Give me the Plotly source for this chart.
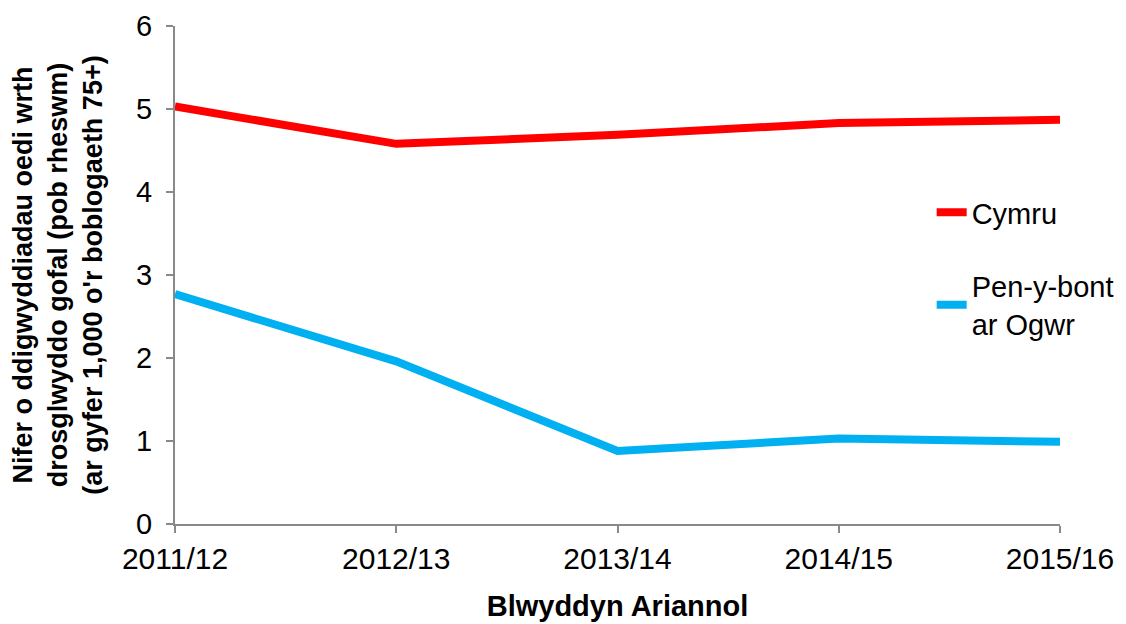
import plotly.graph_objects as go

years = ['2011/12', '2012/13', '2013/14', '2014/15', '2015/16']
cymru = [5.03, 4.58, 4.69, 4.83, 4.87]
penybont = [2.77, 1.96, 0.88, 1.03, 0.99]

font_name = 'Liberation Sans, Arial, sans-serif'

fig = go.Figure()
fig.add_trace(go.Scatter(x=years, y=cymru, mode='lines', name='Cymru', legendgroup='a',
                         line=dict(color='#ff0000', width=8)))
fig.add_trace(go.Scatter(x=years, y=penybont, mode='lines', name='Pen-y-bont<br>ar Ogwr',
                         legendgroup='b', line=dict(color='#00b0f0', width=8)))

# page has an 8px body margin, so margins are offset to land the plot area where the reference has it
fig.update_layout(
    width=1126, height=624,
    margin=dict(l=167, r=74, t=18, b=108),
    plot_bgcolor='white', paper_bgcolor='white',
    font=dict(family=font_name, size=29, color='black'),
    showlegend=True,
    legend=dict(x=0.855, y=0.677, xanchor='left', yanchor='top', tracegroupgap=33,
                bgcolor='rgba(0,0,0,0)', font=dict(size=29)),
)

fig.update_xaxes(
    type='category', range=[0, 4], automargin=False,
    showline=True, linecolor='#898989', linewidth=2,
    ticks='outside', ticklen=7, tickcolor='#898989', tickwidth=2,
    showgrid=False, zeroline=False,
    tickfont=dict(size=30),
    title=dict(text='<b>Blwyddyn Ariannol</b>', font=dict(size=29), standoff=22),
)
fig.update_yaxes(
    range=[0, 6], dtick=1, automargin=False,
    showline=True, linecolor='#898989', linewidth=2,
    ticks='outside', ticklen=7, tickcolor='#898989', tickwidth=2,
    showgrid=False, zeroline=False,
    tickfont=dict(size=29), ticklabelstandoff=8,
    title=dict(text='<b>Nifer o ddigwyddiadau oedi wrth<br>drosglwyddo gofal (pob rheswm)<br>'
                    '(ar gyfer 1,000 o\'r boblogaeth 75+)</b>',
               font=dict(size=27), standoff=27),
)

fig.write_html('out.html')
